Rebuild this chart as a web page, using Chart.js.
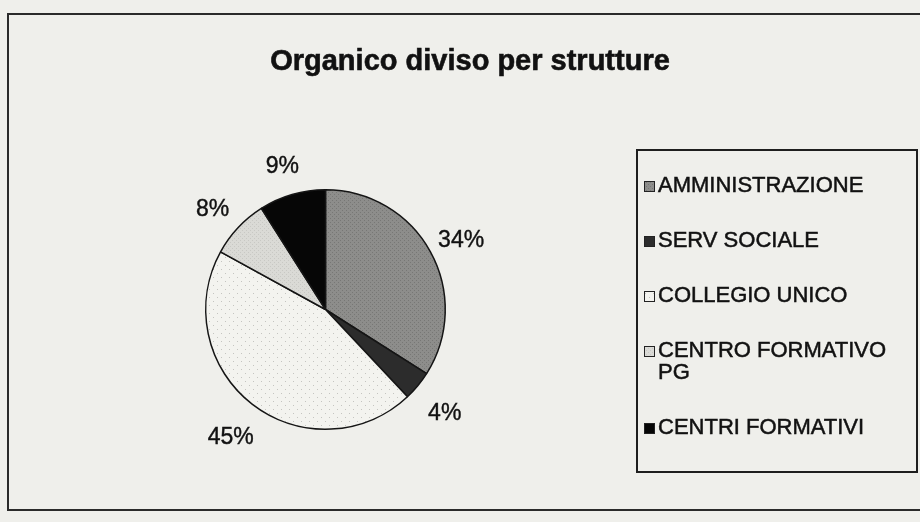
<!DOCTYPE html>
<html>
<head>
<meta charset="utf-8">
<script src="https://cdn.jsdelivr.net/npm/chart.js@4"></script>
<style>
    html, body { margin: 0; padding: 0; background: #efefeb; }
    #wrap { width: 920px; height: 522px; position: relative; }
</style>
</head>
<body>
<div id="wrap"><canvas id="pieChart" width="920" height="522"></canvas></div>
<script>
// Chart data
const chartTitle = 'Organico diviso per strutture';
const categories = ['AMMINISTRAZIONE', 'SERV SOCIALE', 'COLLEGIO UNICO', 'CENTRO FORMATIVO PG', 'CENTRI FORMATIVI'];
const percentages = [34, 4, 45, 8, 9];

const paper = '#efefeb';
const ink = '#111111';

// light dotted fill used by Excel for the "COLLEGIO UNICO" slice
function dottedPattern(base, dot) {
    const c = document.createElement('canvas');
    c.width = 8; c.height = 8;
    const g = c.getContext('2d');
    g.fillStyle = base;
    g.fillRect(0, 0, 8, 8);
    g.fillStyle = dot;
    g.fillRect(1, 1, 1, 1);
    g.fillRect(5, 5, 1, 1);
    return g.createPattern(c, 'repeat');
}

function speckle(base, dot) {
    const c = document.createElement('canvas');
    c.width = 4; c.height = 4;
    const g = c.getContext('2d');
    g.fillStyle = base;
    g.fillRect(0, 0, 4, 4);
    g.fillStyle = dot;
    g.fillRect(0, 0, 1, 1);
    g.fillRect(2, 2, 1, 1);
    return g.createPattern(c, 'repeat');
}

const sliceColors = [
    speckle('#8d8d8b', '#777775'),
    '#2c2c2c',
    dottedPattern('#f3f3ef', '#c4c4c0'),
    speckle('#dadad6', '#c8c8c4'),
    '#060606'
];

// heavier text, like the scanned print
function boldText(ctx, text, x, y, w) {
    ctx.lineWidth = w;
    ctx.strokeStyle = ctx.fillStyle;
    ctx.strokeText(text, x, y);
    ctx.fillText(text, x, y);
}

// page background + outer frame + title
const framePlugin = {
    id: 'frame',
    beforeDraw(chart) {
        const ctx = chart.ctx;
        ctx.save();
        ctx.fillStyle = paper;
        ctx.fillRect(0, 0, chart.width, chart.height);
        ctx.strokeStyle = '#2a2a2a';
        ctx.lineWidth = 2;
        ctx.strokeRect(8, 14, chart.width, 496);
        ctx.fillStyle = ink;
        ctx.font = 'bold 29px "Liberation Sans", Arial, sans-serif';
        ctx.textAlign = 'center';
        ctx.textBaseline = 'middle';
        boldText(ctx, chartTitle, 470, 62, 0.6);
        ctx.restore();
    }
};

// percent labels outside each slice
const outsideLabels = {
    id: 'outsideLabels',
    afterDatasetsDraw(chart) {
        const ctx = chart.ctx;
        const meta = chart.getDatasetMeta(0);
        const size = 23;
        ctx.save();
        ctx.fillStyle = ink;
        ctx.font = size + 'px "Liberation Sans", Arial, sans-serif';
        ctx.textAlign = 'center';
        ctx.textBaseline = 'alphabetic';
        meta.data.forEach((arc, i) => {
            const p = arc.getProps(['x', 'y', 'startAngle', 'endAngle', 'outerRadius'], true);
            const mid = (p.startAngle + p.endAngle) / 2;
            const r = p.outerRadius + 35;
            const cx = p.x + Math.cos(mid) * r;
            const cy = p.y + Math.sin(mid) * r + 4;
            // cy is the middle of the digits, move to baseline
            boldText(ctx, percentages[i] + '%', cx, cy + size * 0.36, 0.4);
        });
        ctx.restore();
    }
};

// boxed legend on the right, wrapping long names
const boxLegend = {
    id: 'boxLegend',
    afterDraw(chart) {
        const ctx = chart.ctx;
        const box = { x: 637, y: 150, w: 280, h: 322 };
        ctx.save();
        ctx.strokeStyle = '#1e1e1e';
        ctx.lineWidth = 2;
        ctx.strokeRect(box.x, box.y, box.w, box.h);

        ctx.font = '22px "Liberation Sans", Arial, sans-serif';
        ctx.textBaseline = 'middle';
        ctx.textAlign = 'left';
        const textX = 658;
        const maxW = box.x + box.w - textX - 4;
        let y = 186;
        chart.data.labels.forEach((label, i) => {
            // wrap words
            const lines = [];
            let line = '';
            label.split(' ').forEach(word => {
                const test = line ? line + ' ' + word : word;
                if (ctx.measureText(test).width > maxW && line) {
                    lines.push(line);
                    line = word;
                } else {
                    line = test;
                }
            });
            lines.push(line);

            ctx.fillStyle = chart.data.datasets[0].backgroundColor[i];
            ctx.fillRect(644, y - 5, 11, 11);
            ctx.strokeStyle = '#222';
            ctx.lineWidth = 1;
            ctx.strokeRect(644.5, y - 4.5, 10, 10);

            ctx.fillStyle = ink;
            lines.forEach((ln, k) => boldText(ctx, ln, textX, y + k * 22, 0.5));
            y += 55 + (lines.length - 1) * 22;
        });
        ctx.restore();
    }
};

new Chart(document.getElementById('pieChart'), {
    type: 'pie',
    data: {
        labels: categories,
        datasets: [{
            data: percentages,
            backgroundColor: sliceColors,
            borderColor: '#151515',
            borderWidth: 1.5
        }]
    },
    options: {
        responsive: false,
        animation: false,
        layout: {
            padding: { left: 205, right: 474, top: 189, bottom: 92 }
        },
        plugins: {
            legend: { display: false },
            title: { display: false },
            tooltip: { enabled: false }
        }
    },
    plugins: [framePlugin, outsideLabels, boxLegend]
});
</script>
</body>
</html>
